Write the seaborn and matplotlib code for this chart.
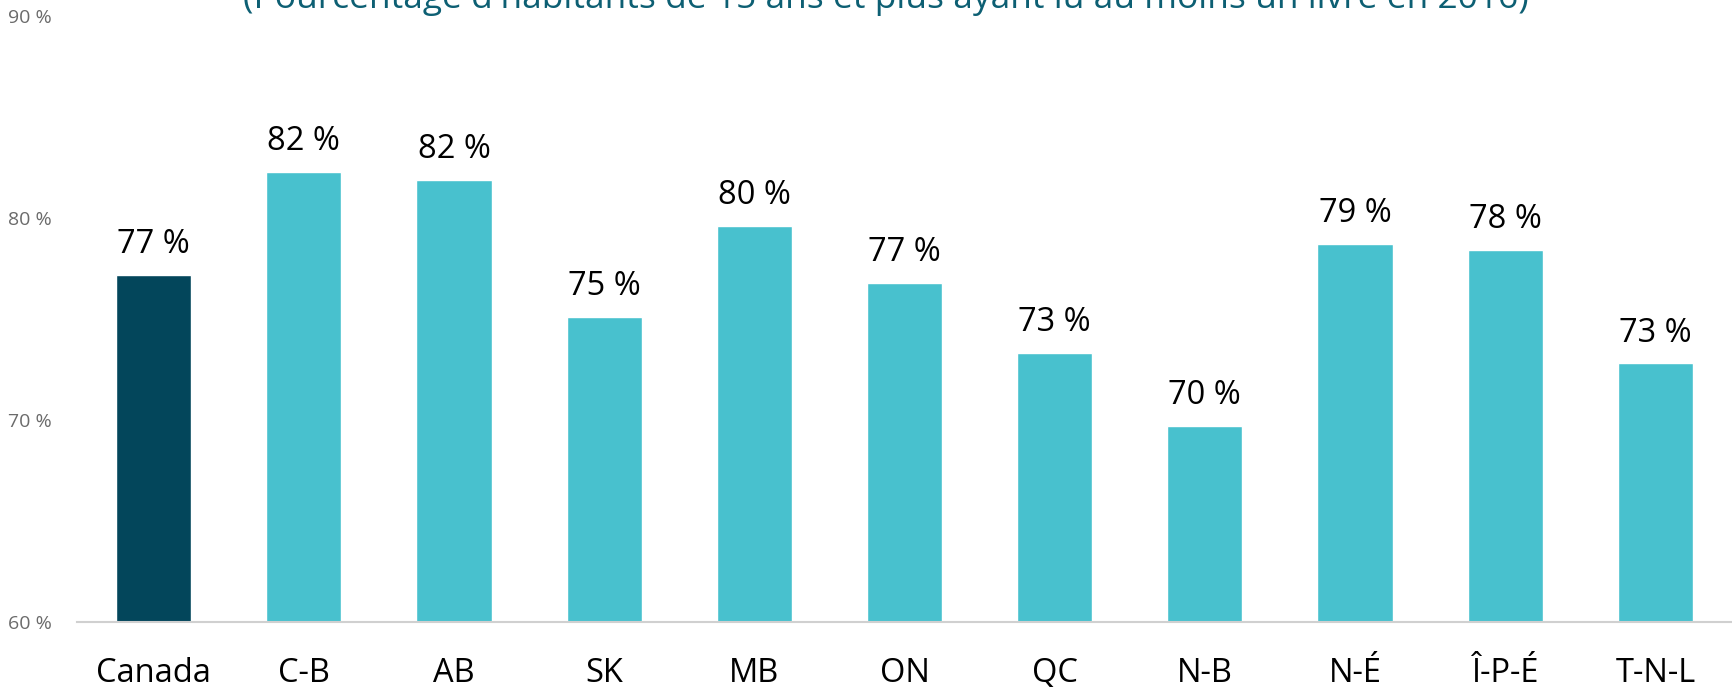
import matplotlib
matplotlib.use("Agg")
import matplotlib.pyplot as plt
import seaborn as sns
import pandas as pd

categories = ["Canada", "C-B", "AB", "SK", "MB", "ON", "QC", "N-B", "N-É", "Î-P-É", "T-N-L"]
values = [77.2, 82.3, 81.9, 75.1, 79.6, 76.8, 73.3, 69.7, 78.7, 78.4, 72.8]
labels = ["77 %", "82 %", "82 %", "75 %", "80 %", "77 %", "73 %", "70 %", "79 %", "78 %", "73 %"]
yticks = [60, 70, 80, 90]
ytick_labels = ["60 %", "70 %", "80 %", "90 %"]
title = "(Pourcentage d'habitants de 15 ans et plus ayant lu au moins un livre en 2016)"

sns.set_theme(style="white")
plt.rcParams["font.family"] = ["Open Sans", "DejaVu Sans"]

df = pd.DataFrame({"cat": categories, "val": values})
colors = ["#03465b"] + ["#48c1ce"] * (len(categories) - 1)
palette = dict(zip(categories, colors))

W, H = 1732, 687
fig = plt.figure(figsize=(W / 100, H / 100), dpi=100)
ax = fig.add_axes([77 / W, 1 - 622 / H, (W - 77) / W, (622 - 16) / H])

sns.barplot(data=df, x="cat", y="val", hue="cat", palette=palette, legend=False,
            width=0.5, ax=ax, saturation=1)

ax.set_ylim(60, 90)
ax.set_xlim(-0.51, len(categories) - 0.49)
ax.set_yticks(yticks)
ax.set_yticklabels(ytick_labels, fontsize=14, color="#6b6b6b")
ax.tick_params(axis="y", length=0, pad=18)
ax.tick_params(axis="x", length=0, pad=25, labelsize=23.5, labelcolor="#000000")
ax.set_xlabel("")
ax.set_ylabel("")
for s in ["top", "right", "left"]:
    ax.spines[s].set_visible(False)
ax.spines["bottom"].set_color("#d0d0d0")
ax.spines["bottom"].set_linewidth(1.5)
ax.grid(False)

for i, (v, lab) in enumerate(zip(values, labels)):
    ax.annotate(lab, xy=(i, v), xytext=(0, 10), textcoords="offset points",
                ha="center", va="bottom", fontsize=23.5, color="#000000")

fig.text(886 / W, 1 - 8 / H, title, ha="center", va="baseline", fontsize=25.5, color="#0d5f73")

fig.savefig("out.png", dpi=100)
